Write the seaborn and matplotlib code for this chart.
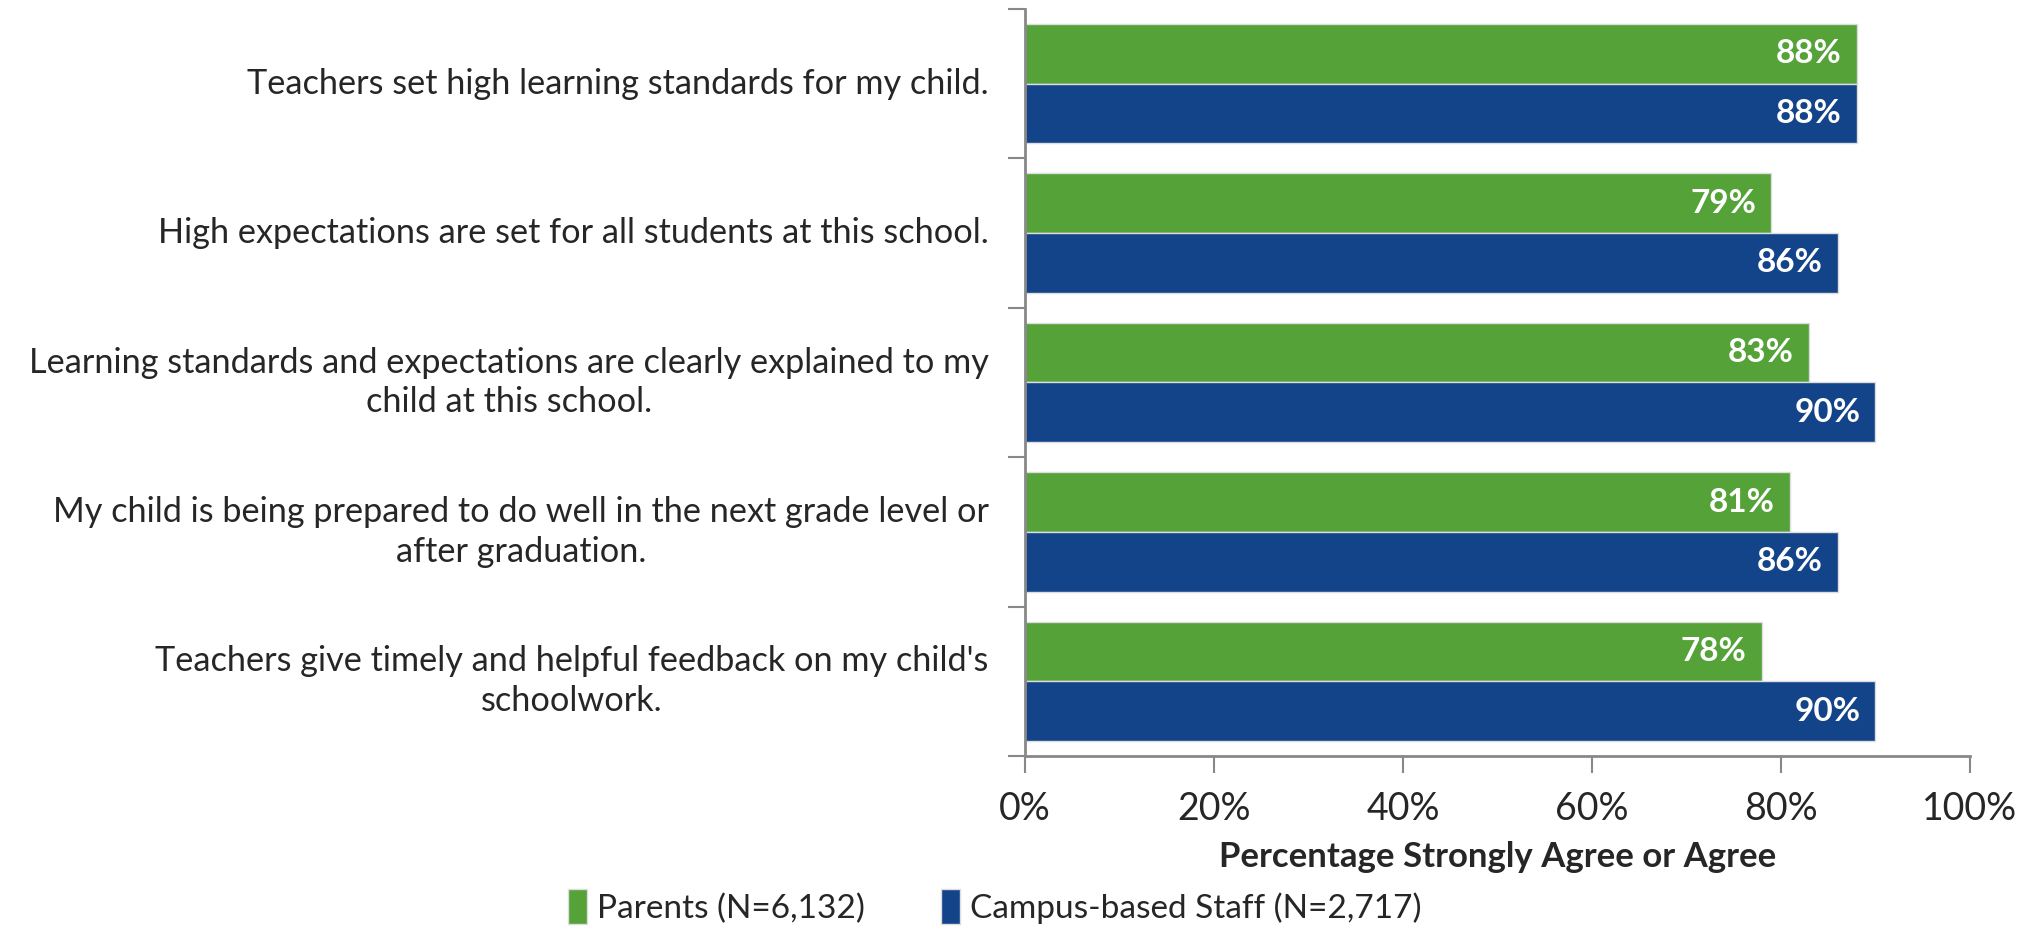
import pandas as pd
import matplotlib.pyplot as plt
import seaborn as sns
from matplotlib.ticker import FixedLocator, PercentFormatter
from matplotlib.transforms import ScaledTranslation

# Данные графика
questions = [
    "Teachers set high learning standards for my child.",
    "High expectations are set for all students at this school.",
    "Learning standards and expectations are clearly explained to my\nchild at this school.",
    "My child is being prepared to do well in the next grade level or\nafter graduation.",
    "Teachers give timely and helpful feedback on my child's\nschoolwork.",
]
parents = [88, 79, 83, 81, 78]
staff = [88, 86, 90, 86, 90]
groups = ["Parents (N=6,132)", "Campus-based Staff (N=2,717)"]
colors = ["#54A238", "#134389"]

df = pd.DataFrame({
    "question": questions * 2,
    "value": parents + staff,
    "group": [groups[0]] * len(questions) + [groups[1]] * len(questions),
})

sns.set_style("white")
plt.rcParams['font.family'] = ['Lato', 'DejaVu Sans']

fig = plt.figure(figsize=(20.3, 9.26), dpi=100)
ax = fig.add_axes([0.5049, 0.1836, 0.4655, 0.8067])

sns.barplot(data=df, y="question", x="value", hue="group", palette=colors,
            saturation=1, width=0.8, orient="h", edgecolor="#dddddd",
            linewidth=1, ax=ax)

# Подписи значений внутри столбцов
for cont in ax.containers:
    texts = ax.bar_label(cont, labels=[f"{v:.0f}%" for v in cont.datavalues],
                         padding=-11, color="white", fontsize=24,
                         fontweight="bold", label_type="edge")
    for t in texts:
        t.set_ha("right")

ax.set_xlim(0, 100)
ax.set_ylim(len(questions) - 0.5, -0.5)
ax.xaxis.set_major_locator(FixedLocator([0, 20, 40, 60, 80, 100]))
ax.xaxis.set_major_formatter(PercentFormatter(decimals=0))
ax.tick_params(axis="x", length=12, width=1.5, color="#888888", labelsize=27,
               pad=13, direction="out", bottom=True)
ax.set_yticks([b - 0.5 for b in range(len(questions) + 1)], minor=True)
ax.tick_params(axis="y", which="major", length=0, labelsize=24.7, pad=26)
ax.tick_params(axis="y", which="minor", length=12, width=1.5, color="#888888",
               direction="out", left=True)
for lbl in ax.get_yticklabels():
    lbl.set_multialignment("center")
    lbl.set_linespacing(1.3)
    # немного поднять подписи, как в оригинале
    dy = 5 if "\n" in lbl.get_text() else 2
    lbl.set_transform(lbl.get_transform()
                      + ScaledTranslation(0, dy / 72, fig.dpi_scale_trans))

ax.set_xlabel("Percentage Strongly Agree or Agree", fontsize=25,
              fontweight="bold", labelpad=10)
ax.set_ylabel("")

for side in ["top", "right"]:
    ax.spines[side].set_visible(False)
for side in ["left", "bottom"]:
    ax.spines[side].set_color("#888888")
    ax.spines[side].set_linewidth(2)

ax.legend_.remove()
handles, labels = ax.get_legend_handles_labels()
fig.legend(handles, labels, loc="center", bbox_to_anchor=(0.49, 0.021),
           ncol=2, frameon=False, fontsize=24, handlelength=0.55,
           handleheight=1.2, handletextpad=0.3, columnspacing=2.3,
           borderpad=0)

fig.savefig("out.png", dpi=100)
